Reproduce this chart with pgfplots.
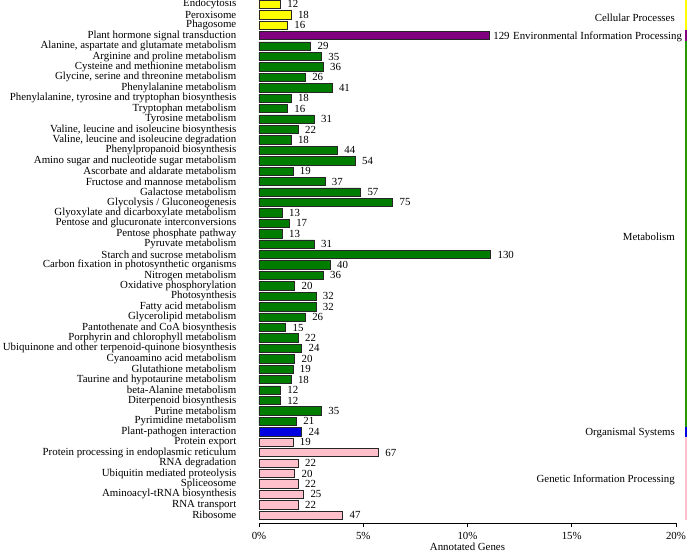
\documentclass[border=0pt]{standalone}
\usepackage{fontspec}
\setmainfont{Liberation Serif}
\usepackage{pgfplots}
\usepackage{pgfplotstable}
\pgfplotsset{compat=1.18}
\definecolor{cpY}{RGB}{255,255,0}
\definecolor{enP}{RGB}{128,0,128}
\definecolor{meG}{RGB}{0,125,0}
\definecolor{orB}{RGB}{0,0,225}
\definecolor{gePk}{RGB}{255,192,203}

\pgfplotstableread{
y n
0 12
1 18
2 16
}\cellular
\pgfplotstableread{
y n
3 129
}\environ
\pgfplotstableread{
y n
4 29
5 35
6 36
7 26
8 41
9 18
10 16
11 31
12 22
13 18
14 44
15 54
16 19
17 37
18 57
19 75
20 13
21 17
22 13
23 31
24 130
25 40
26 36
27 20
28 32
29 32
30 26
31 15
32 22
33 24
34 20
35 19
36 18
37 12
38 12
39 35
40 21
}\metab
\pgfplotstableread{
y n
41 24
}\organ
\pgfplotstableread{
y n
42 19
43 67
44 22
45 20
46 22
47 25
48 22
49 47
}\genet

\begin{document}
\fontsize{10.9}{12}\selectfont
\begin{tikzpicture}
\begin{axis}[
  name=ax,
  scale only axis,
  width=417bp, height=523bp,
  xmin=0, xmax=20,
  ymin=-0.42, ymax=49.75,
  y dir=reverse,
  clip=false,
  /pgf/number format/assume math mode=true,
  axis x line*=bottom,
  axis y line*=left,
  y axis line style={draw=none},
  ytick style={draw=none},
  xtick={0,5,10,15,20},
  xticklabels={0\%,5\%,10\%,15\%,20\%},
  xtick align=outside,
  major tick length=4bp,
  x axis line style={line width=1bp, -},
  xtick style={line width=0.8bp, black},
  ytick={0,...,49},
  yticklabels={Endocytosis,Peroxisome,Phagosome,Plant hormone signal transduction,
    {Alanine, aspartate and glutamate metabolism},Arginine and proline metabolism,
    Cysteine and methionine metabolism,{Glycine, serine and threonine metabolism},
    Phenylalanine metabolism,{Phenylalanine, tyrosine and tryptophan biosynthesis},
    Tryptophan metabolism,Tyrosine metabolism,{Valine, leucine and isoleucine biosynthesis},
    {Valine, leucine and isoleucine degradation},Phenylpropanoid biosynthesis,
    Amino sugar and nucleotide sugar metabolism,Ascorbate and aldarate metabolism,
    Fructose and mannose metabolism,Galactose metabolism,Glycolysis / Gluconeogenesis,
    Glyoxylate and dicarboxylate metabolism,Pentose and glucuronate interconversions,
    Pentose phosphate pathway,Pyruvate metabolism,Starch and sucrose metabolism,
    Carbon fixation in photosynthetic organisms,Nitrogen metabolism,
    Oxidative phosphorylation,Photosynthesis,Fatty acid metabolism,
    Glycerolipid metabolism,Pantothenate and CoA biosynthesis,
    Porphyrin and chlorophyll metabolism,Ubiquinone and other terpenoid-quinone biosynthesis,
    Cyanoamino acid metabolism,Glutathione metabolism,Taurine and hypotaurine metabolism,
    beta-Alanine metabolism,Diterpenoid biosynthesis,Purine metabolism,
    Pyrimidine metabolism,Plant-pathogen interaction,Protein export,
    Protein processing in endoplasmic reticulum,RNA degradation,
    Ubiquitin mediated proteolysis,Spliceosome,Aminoacyl-tRNA biosynthesis,
    RNA transport,Ribosome},
  yticklabel style={font=\fontsize{10.9}{10}\selectfont, xshift=-17bp, inner sep=1.5bp},
  xticklabel style={font=\fontsize{10.9}{10}\selectfont, yshift=-1bp},
  xlabel={Annotated Genes},
  xlabel style={at={(axis description cs:0.5,0)}, anchor=center, yshift=-24bp, font=\fontsize{10.9}{10}\selectfont},
  xbar, bar width=0.8, bar shift=0pt,
  point meta=explicit,
  nodes near coords,
  nodes near coords style={anchor=west, xshift=3bp, font=\fontsize{10.9}{10}\selectfont, black},
  every axis plot/.append style={draw=black!85, line width=0.7bp},
]
\addplot[fill=cpY] table[x expr=\thisrow{n}/11.7, y=y, meta=n] {\cellular};
\addplot[fill=enP, nodes near coords style={xshift=-2.5bp}] table[x expr=\thisrow{n}/11.7, y=y, meta=n] {\environ};
\addplot[fill=meG] table[x expr=\thisrow{n}/11.7, y=y, meta=n] {\metab};
\addplot[fill=orB] table[x expr=\thisrow{n}/11.7, y=y, meta=n] {\organ};
\addplot[fill=gePk] table[x expr=\thisrow{n}/11.7, y=y, meta=n] {\genet};

\draw[line width=2bp, cpY] (axis cs:20.49,-0.5) -- (axis cs:20.49,2.5);
\draw[line width=2bp, enP] (axis cs:20.49,2.5) -- (axis cs:20.49,3.5);
\draw[line width=2bp, meG!80!lime] (axis cs:20.49,3.5) -- (axis cs:20.49,40.5);
\draw[line width=2bp, orB] (axis cs:20.49,40.5) -- (axis cs:20.49,41.5);
\draw[line width=2bp, gePk] (axis cs:20.49,41.5) -- (axis cs:20.49,49.5);

\node[anchor=east, inner sep=0pt, font=\fontsize{10.9}{10}\selectfont] at (axis cs:19.95,1.3) {Cellular Processes};
\node[anchor=east, inner sep=0pt, font=\fontsize{10.9}{10}\selectfont] at (axis cs:20.3,3.1) {Environmental Information Processing};
\node[anchor=east, inner sep=0pt, font=\fontsize{10.9}{10}\selectfont] at (axis cs:19.95,22.3) {Metabolism};
\node[anchor=east, inner sep=0pt, font=\fontsize{10.9}{10}\selectfont] at (axis cs:19.95,41.1) {Organismal Systems};
\node[anchor=east, inner sep=0pt, font=\fontsize{10.9}{10}\selectfont] at (axis cs:19.95,45.6) {Genetic Information Processing};
\end{axis}
\pgfresetboundingbox
\path[use as bounding box] (ax.south west) ++(-259bp,-30bp) rectangle ++(688bp,553bp);
\end{tikzpicture}
\end{document}
